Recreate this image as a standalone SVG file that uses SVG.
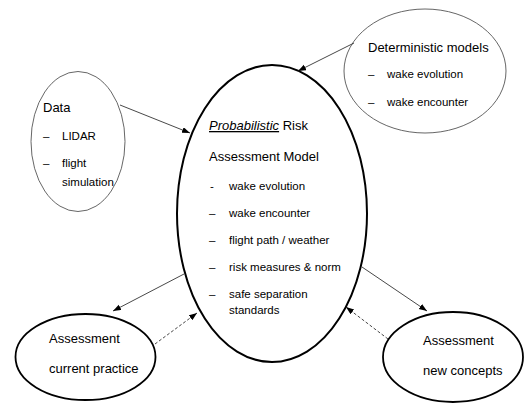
<svg xmlns="http://www.w3.org/2000/svg" width="524" height="404" viewBox="0 0 524 404">
<defs>
<style>
text{font-family:"Liberation Sans",Arial,sans-serif;fill:#000}
.t{font-size:13px}
.i{font-size:11.5px}
.thin{fill:#fff;stroke:#555;stroke-width:0.9}
.bold{fill:#fff;stroke:#000;stroke-width:1.8}
.main{fill:#fff;stroke:#000;stroke-width:2}
.c{stroke:#333;stroke-width:0.9;fill:none}
.d{stroke-dasharray:3 2}
</style>
<marker id="ah" markerUnits="userSpaceOnUse" markerWidth="9" markerHeight="7" refX="8" refY="3" orient="auto">
<path d="M0,0 L8,3 L0,6 z" fill="#000"/>
</marker>
</defs>
<rect width="524" height="404" fill="#fff"/>
<g id="data">
<ellipse class="thin" cx="78" cy="141.5" rx="47" ry="70"/>
<text class="t" x="43" y="112">Data</text>
<text class="i" x="43" y="140">–</text>
<text class="i" x="62" y="140">LIDAR</text>
<text class="i" x="43" y="167">–</text>
<text class="i" x="62" y="167">flight</text>
<text class="i" x="62" y="186">simulation</text>
</g>
<g id="deterministic">
<ellipse class="thin" cx="425" cy="71" rx="81" ry="62"/>
<text class="t" x="368" y="52">Deterministic models</text>
<text class="i" x="368" y="78">–</text>
<text class="i" x="387" y="78">wake evolution</text>
<text class="i" x="368" y="106">–</text>
<text class="i" x="387" y="106">wake encounter</text>
</g>
<g id="current">
<ellipse class="bold" cx="85.5" cy="357" rx="70" ry="43"/>
<text class="t" x="49" y="343">Assessment</text>
<text class="t" x="49" y="373">current practice</text>
</g>
<g id="newconcepts">
<ellipse class="bold" cx="453" cy="357" rx="70" ry="45"/>
<text class="t" x="423" y="345">Assessment</text>
<text class="t" x="423" y="375">new concepts</text>
</g>
<g id="model">
<ellipse class="main" cx="272" cy="213.5" rx="95" ry="148.5"/>
<text class="t" x="209" y="130"><tspan font-style="italic" text-decoration="underline">Probabilistic</tspan> Risk</text>
<text class="t" x="209" y="161">Assessment Model</text>
<text class="i" x="210" y="190">-</text>
<text class="i" x="229" y="190">wake evolution</text>
<text class="i" x="209" y="217">–</text>
<text class="i" x="229" y="217">wake encounter</text>
<text class="i" x="209" y="244">–</text>
<text class="i" x="229" y="244">flight path / weather</text>
<text class="i" x="209" y="271">–</text>
<text class="i" x="229" y="271">risk measures &amp; norm</text>
<text class="i" x="209" y="298">–</text>
<text class="i" x="229" y="298">safe separation</text>
<text class="i" x="229" y="314">standards</text>
</g>
<g id="connectors">
<line class="c" x1="120" y1="105" x2="190" y2="133" marker-end="url(#ah)"/>
<line class="c" x1="354" y1="43" x2="298" y2="71" marker-end="url(#ah)"/>
<line class="c" x1="184" y1="274" x2="113" y2="311" marker-end="url(#ah)"/>
<line class="c d" x1="155" y1="344" x2="197" y2="313" marker-end="url(#ah)"/>
<line class="c" x1="362" y1="267" x2="427" y2="311" marker-end="url(#ah)"/>
<line class="c d" x1="388" y1="339" x2="346" y2="307" marker-end="url(#ah)"/>
</g>
</svg>
